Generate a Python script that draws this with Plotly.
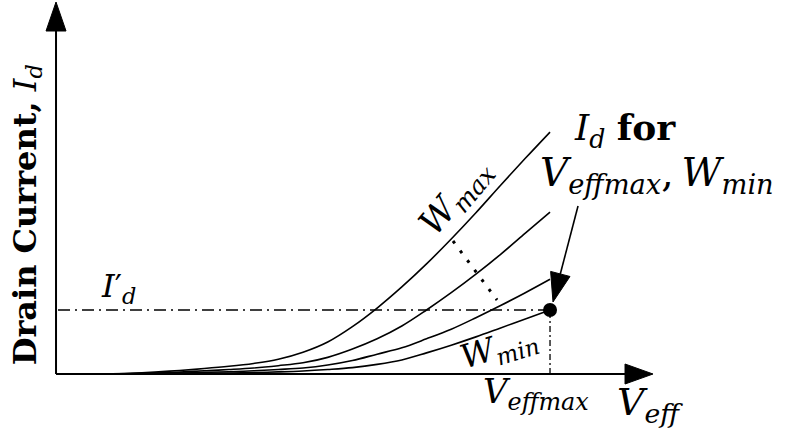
import plotly.graph_objects as go

# Effective gate overdrive (normalised so that V_effmax = 1)
veff = [0.05, 0.1, 0.15, 0.2, 0.25, 0.3, 0.35, 0.4, 0.45, 0.5,
        0.55, 0.6, 0.65, 0.7, 0.75, 0.8, 0.85, 0.9, 0.95, 1.0]

# Drain current (normalised so that I'_d = 1) for decreasing widths
id_wmax = [0.0, 0.003, 0.012, 0.03, 0.055, 0.085, 0.12, 0.165, 0.23, 0.34,
           0.50, 0.74, 1.03, 1.36, 1.72, 2.11, 2.52, 2.95, 3.37, 3.78]
id_w2 = [0.0, 0.002, 0.007, 0.015, 0.03, 0.05, 0.07, 0.094, 0.13, 0.175,
         0.26, 0.39, 0.55, 0.75, 1.0, 1.27, 1.56, 1.87, 2.2, 2.53]
id_w3 = [0.0, 0.001, 0.004, 0.008, 0.015, 0.025, 0.036, 0.05, 0.07, 0.094,
         0.14, 0.21, 0.31, 0.41, 0.55, 0.70, 0.88, 1.07, 1.27, 1.48]
id_wmin = [0.0, 0.0, 0.002, 0.004, 0.007, 0.011, 0.016, 0.023, 0.033, 0.047,
           0.07, 0.10, 0.15, 0.22, 0.33, 0.45, 0.58, 0.72, 0.86, 1.0]

veff_max = 1.0
id_prime = 1.0

W, H = 799, 431
X_RANGE = [-0.1134, 1.5040]
Y_RANGE = [-0.8906, 5.8438]
SX = (X_RANGE[1] - X_RANGE[0]) / W  # data units per pixel
SY = (Y_RANGE[1] - Y_RANGE[0]) / H

FONT = "DejaVu Serif"
BLACK = "#000000"


def arrowhead(tx, ty, dx, dy, length=29, half=10):
    """Filled triangular arrowhead with its tip at (tx, ty), pointing along (dx, dy) in screen px (y up)."""
    n = (dx * dx + dy * dy) ** 0.5
    ux, uy = dx / n, dy / n
    bx, by = -ux * length, -uy * length
    qx, qy = -uy * half, ux * half
    pts = [(0, 0), (bx + qx, by + qy), (bx - qx, by - qy)]
    path = "M " + " L ".join(f"{tx + a * SX},{ty + b * SY}" for a, b in pts) + " Z"
    return dict(type="path", path=path, xref="x", yref="y",
                fillcolor=BLACK, line=dict(color=BLACK, width=1), layer="above")


fig = go.Figure()

for ys in (id_wmax, id_w2, id_w3, id_wmin):
    fig.add_trace(go.Scatter(
        x=veff, y=ys, mode="lines",
        line=dict(color=BLACK, width=1.6, shape="spline", smoothing=1.0),
        hoverinfo="skip", showlegend=False,
    ))

# operating point: V_effmax on the W_min curve
fig.add_trace(go.Scatter(
    x=[veff_max], y=[id_prime], mode="markers",
    marker=dict(color=BLACK, size=14), hoverinfo="skip", showlegend=False,
))

x_tip = 1.2085
y_tip = 5.8125
shapes = [
    # axes
    dict(type="line", x0=0, y0=0, x1=x_tip - 20 * SX, y1=0, xref="x", yref="y",
         line=dict(color=BLACK, width=2)),
    dict(type="line", x0=0, y0=0, x1=0, y1=y_tip - 20 * SY, xref="x", yref="y",
         line=dict(color=BLACK, width=2)),
    arrowhead(x_tip, 0, 1, 0, length=28, half=10),
    arrowhead(0, y_tip, 0, 1, length=29, half=10),
    # I'_d reference level and V_effmax drop line
    dict(type="line", x0=0.004, y0=id_prime, x1=veff_max, y1=id_prime, xref="x", yref="y",
         line=dict(color=BLACK, width=1.3, dash="12px,5px,2px,5px")),
    dict(type="line", x0=veff_max, y0=0, x1=veff_max, y1=id_prime, xref="x", yref="y",
         line=dict(color=BLACK, width=1.3, dash="6px,3px,2px,3px")),
    # dotted trend across the width family
    dict(type="line", x0=0.8036, y0=2.078, x1=0.8927, y1=1.156, xref="x", yref="y",
         line=dict(color=BLACK, width=3, dash="3px,9px")),
]

# pointer from the caption to the operating point
tip_x, tip_y = 1.006, 1.125
start_x, start_y = 1.0567, 2.625
ddx, ddy = (tip_x - start_x) / SX, (tip_y - start_y) / SY
nn = (ddx * ddx + ddy * ddy) ** 0.5
shapes.append(dict(type="line", x0=start_x, y0=start_y,
                   x1=tip_x - ddx / nn * 25 * SX, y1=tip_y - ddy / nn * 25 * SY,
                   xref="x", yref="y", line=dict(color=BLACK, width=1.6)))
shapes.append(arrowhead(tip_x, tip_y, ddx, ddy, length=29, half=10))


def label(text, x, y, size, angle=0, xanchor="center", yanchor="middle"):
    fig.add_annotation(x=x, y=y, xref="x", yref="y", text=text, showarrow=False,
                       textangle=angle, xanchor=xanchor, yanchor=yanchor,
                       font=dict(family=FONT, size=size, color=BLACK))


label("<b>Drain Current,</b> <i>I</i><sub><i>d</i></sub>", -0.0587, 2.48, 32, angle=-90)
label("<i>I</i>′<sub><i>d</i></sub>", 0.086, 1.34, 32, xanchor="left")
label("<i>W</i><sub><i>max</i></sub>", 0.810, 2.76, 35, angle=-50)
label("<i>W</i><sub><i>min</i></sub>", 0.897, 0.40, 33, angle=-17)
label("<i>V</i><sub><i>effmax</i></sub>", 0.972, -0.30, 34)
label("<i>V</i><sub><i>eff</i></sub>", 1.202, -0.48, 38)
label("<i>I</i><sub><i>d</i></sub> <b>for</b>", 1.0445, 3.81, 36, xanchor="left")
label("<i>V</i><sub><i>effmax</i></sub>,\u2009<i>W</i><sub><i>min</i></sub>", 0.975, 3.11, 39, xanchor="left")

fig.update_layout(
    width=W, height=H,
    margin=dict(l=0, r=0, t=0, b=0),
    paper_bgcolor="white", plot_bgcolor="white",
    xaxis=dict(range=X_RANGE, visible=False, fixedrange=True),
    yaxis=dict(range=Y_RANGE, visible=False, fixedrange=True),
    shapes=shapes,
    showlegend=False,
)

fig.write_html("out.html")
